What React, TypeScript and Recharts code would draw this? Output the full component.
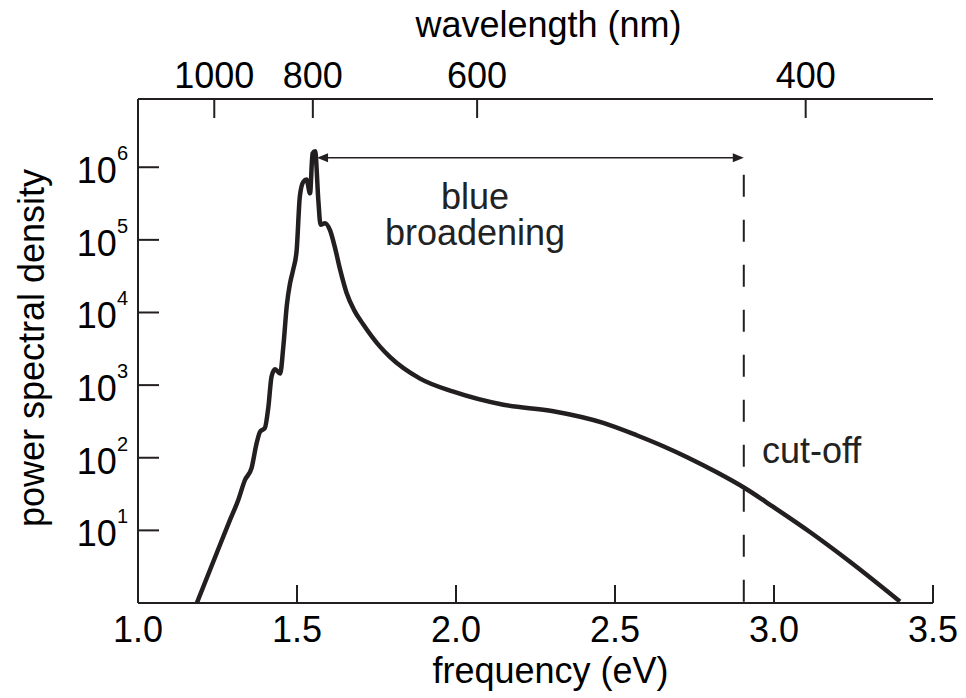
import React from 'react';
import { LineChart, Line, XAxis, YAxis, ReferenceLine, ReferenceDot } from 'recharts';

const INK = '#231f20';
const FONT = '"Liberation Sans", Arial, Helvetica, sans-serif';

// photon energy (eV) and power spectral density
const energy = [
  1.185, 1.247, 1.289, 1.315, 1.336, 1.357, 1.373, 1.384, 1.399, 1.41, 1.42, 1.431, 1.447, 1.457,
  1.468, 1.478, 1.488, 1.499, 1.509, 1.52, 1.53, 1.541, 1.549, 1.557, 1.567, 1.574, 1.588, 1.604,
  1.619, 1.635, 1.656, 1.68, 1.708, 1.761, 1.792, 1.887, 1.992, 2.149, 2.306, 2.463, 2.568, 2.65,
  2.73, 2.82, 2.909, 2.998, 3.113, 3.239, 3.396,
];
const psd = [
  1.0, 4.8, 13.8, 26, 49, 72, 158, 229, 257, 501, 1318, 1660, 1445, 3388,
  12600, 25100, 38900, 72400, 398000, 631000, 676000, 437000, 1550000, 1660000, 355000, 162000, 170000, 135000,
  79400, 39800, 18600, 10700, 6900, 3390, 2450, 1230, 813, 537, 437, 302, 204, 145,
  100, 63, 38, 21, 9.5, 3.7, 1.05,
];

const freqTicks = [1.0, 1.5, 2.0, 2.5, 3.0, 3.5];
const wavelengthTicks = [1000, 800, 600, 400];
const psdTicks = [1, 10, 100, 1e3, 1e4, 1e5, 1e6];
const psdTop = 8.7e6;

const cutoffEnergy = 2.905;
const arrowStart = 1.563;
const arrowLevel = 1.35e6;
const dashTop = 7.9e5;

const notes = [
  { text: 'blue', x: 2.06, y: 2.65e5, anchor: 'middle' },
  { text: 'broadening', x: 2.06, y: 8.53e4, anchor: 'middle' },
  { text: 'cut-off', x: 2.962, y: 84.8, anchor: 'start' },
];

const HC = 1239.84; // eV*nm
const data = energy.map((e, i) => ({ energy: e, psd: psd[i] }));
const topTicks = wavelengthTicks.map((w) => HC / w);

const BottomTick = (props: any) => {
  const { x, y, payload } = props;
  return (
    <g>
      <line x1={x} y1={y} x2={x} y2={y - 18} stroke={INK} strokeWidth={2} />
      <text x={x} y={y + 39} textAnchor="middle" fontSize={36} fontFamily={FONT} fill="#000">
        {Number(payload.value).toFixed(1)}
      </text>
    </g>
  );
};

const TopTick = (props: any) => {
  const { x, y, payload } = props;
  return (
    <g>
      <line x1={x} y1={y} x2={x} y2={y + 19} stroke={INK} strokeWidth={2} />
      <text x={x} y={y - 11} textAnchor="middle" fontSize={36} fontFamily={FONT} fill="#000">
        {Math.round(HC / payload.value)}
      </text>
    </g>
  );
};

const LeftTick = (props: any) => {
  const { x, y, payload } = props;
  const exp = Math.round(Math.log10(payload.value));
  return (
    <g>
      <line x1={x} y1={y} x2={x + 21} y2={y} stroke={INK} strokeWidth={2} />
      {exp > 0 && (
        <text x={x - 10} y={y + 16} textAnchor="end" fontFamily={FONT} fill="#000">
          <tspan fontSize={36}>10</tspan>
          <tspan fontSize={20} dy={-23}>{exp}</tspan>
        </text>
      )}
    </g>
  );
};

const DoubleArrow = (props: any) => {
  const { x1, y1, x2, y2 } = props;
  const len = 11;
  const half = 4.5;
  return (
    <g>
      <line x1={x1 + len - 1} y1={y1} x2={x2 - len + 1} y2={y2} stroke={INK} strokeWidth={1.5} />
      <polygon points={`${x1},${y1} ${x1 + len},${y1 - half} ${x1 + len},${y1 + half}`} fill={INK} />
      <polygon points={`${x2},${y2} ${x2 - len},${y2 - half} ${x2 - len},${y2 + half}`} fill={INK} />
    </g>
  );
};

export default function App() {
  return (
    <div style={{ position: 'absolute', left: 0, top: 0, background: '#fff' }}>
      <LineChart width={966} height={698} data={data} margin={{ top: 0, right: 33, bottom: 0, left: 0 }}>
        <XAxis
          xAxisId="bottom"
          dataKey="energy"
          type="number"
          domain={[1, 3.5]}
          allowDataOverflow
          ticks={freqTicks}
          interval={0}
          orientation="bottom"
          height={95}
          axisLine={{ stroke: INK, strokeWidth: 2 }}
          tickLine={false}
          tickSize={0}
          tickMargin={0}
          tick={<BottomTick />}
          label={{
            value: 'frequency (eV)',
            position: 'insideBottom',
            offset: 15,
            dx: 15,
            style: { fontSize: 36, fontFamily: FONT, fill: '#000' },
          }}
        />
        <XAxis
          xAxisId="top"
          dataKey="energy"
          type="number"
          domain={[1, 3.5]}
          allowDataOverflow
          ticks={topTicks}
          interval={0}
          orientation="top"
          height={99}
          axisLine={{ stroke: INK, strokeWidth: 2 }}
          tickLine={false}
          tickSize={0}
          tickMargin={0}
          tick={<TopTick />}
          label={{
            value: 'wavelength (nm)',
            position: 'insideTop',
            offset: 11,
            dx: 13,
            style: { fontSize: 36, fontFamily: FONT, fill: '#000' },
          }}
        />
        <YAxis
          yAxisId="left"
          scale="log"
          type="number"
          domain={[1, psdTop]}
          allowDataOverflow
          ticks={psdTicks}
          interval={0}
          width={138}
          axisLine={{ stroke: INK, strokeWidth: 2 }}
          tickLine={false}
          tickSize={0}
          tickMargin={0}
          tick={<LeftTick />}
          label={{
            value: 'power spectral density',
            angle: -90,
            position: 'insideLeft',
            offset: 31,
            dy: -3,
            style: { fontSize: 36, fontFamily: FONT, fill: '#000', textAnchor: 'middle' },
          }}
        />
        <YAxis
          yAxisId="right"
          orientation="right"
          type="number"
          domain={[0, 1]}
          width={0}
          tick={false}
          tickLine={false}
          axisLine={{ stroke: INK, strokeWidth: 2 }}
        />
        <ReferenceLine
          xAxisId="bottom"
          yAxisId="left"
          segment={[
            { x: cutoffEnergy, y: dashTop },
            { x: cutoffEnergy, y: 1 },
          ]}
          stroke={INK}
          strokeWidth={2}
          strokeDasharray="22 23"
        />
        <ReferenceLine
          xAxisId="bottom"
          yAxisId="left"
          segment={[
            { x: arrowStart, y: arrowLevel },
            { x: cutoffEnergy, y: arrowLevel },
          ]}
          shape={<DoubleArrow />}
        />
        {notes.map((n) => (
          <ReferenceDot
            key={n.text}
            xAxisId="bottom"
            yAxisId="left"
            x={n.x}
            y={n.y}
            r={0}
            shape={(p: any) => (
              <text x={p.cx} y={p.cy} textAnchor={n.anchor} fontSize={36} fontFamily={FONT} fill="#222">
                {n.text}
              </text>
            )}
          />
        ))}
        <Line
          xAxisId="bottom"
          yAxisId="left"
          type="monotone"
          dataKey="psd"
          stroke={INK}
          strokeWidth={4.5}
          dot={false}
          isAnimationActive={false}
        />
      </LineChart>
    </div>
  );
}
